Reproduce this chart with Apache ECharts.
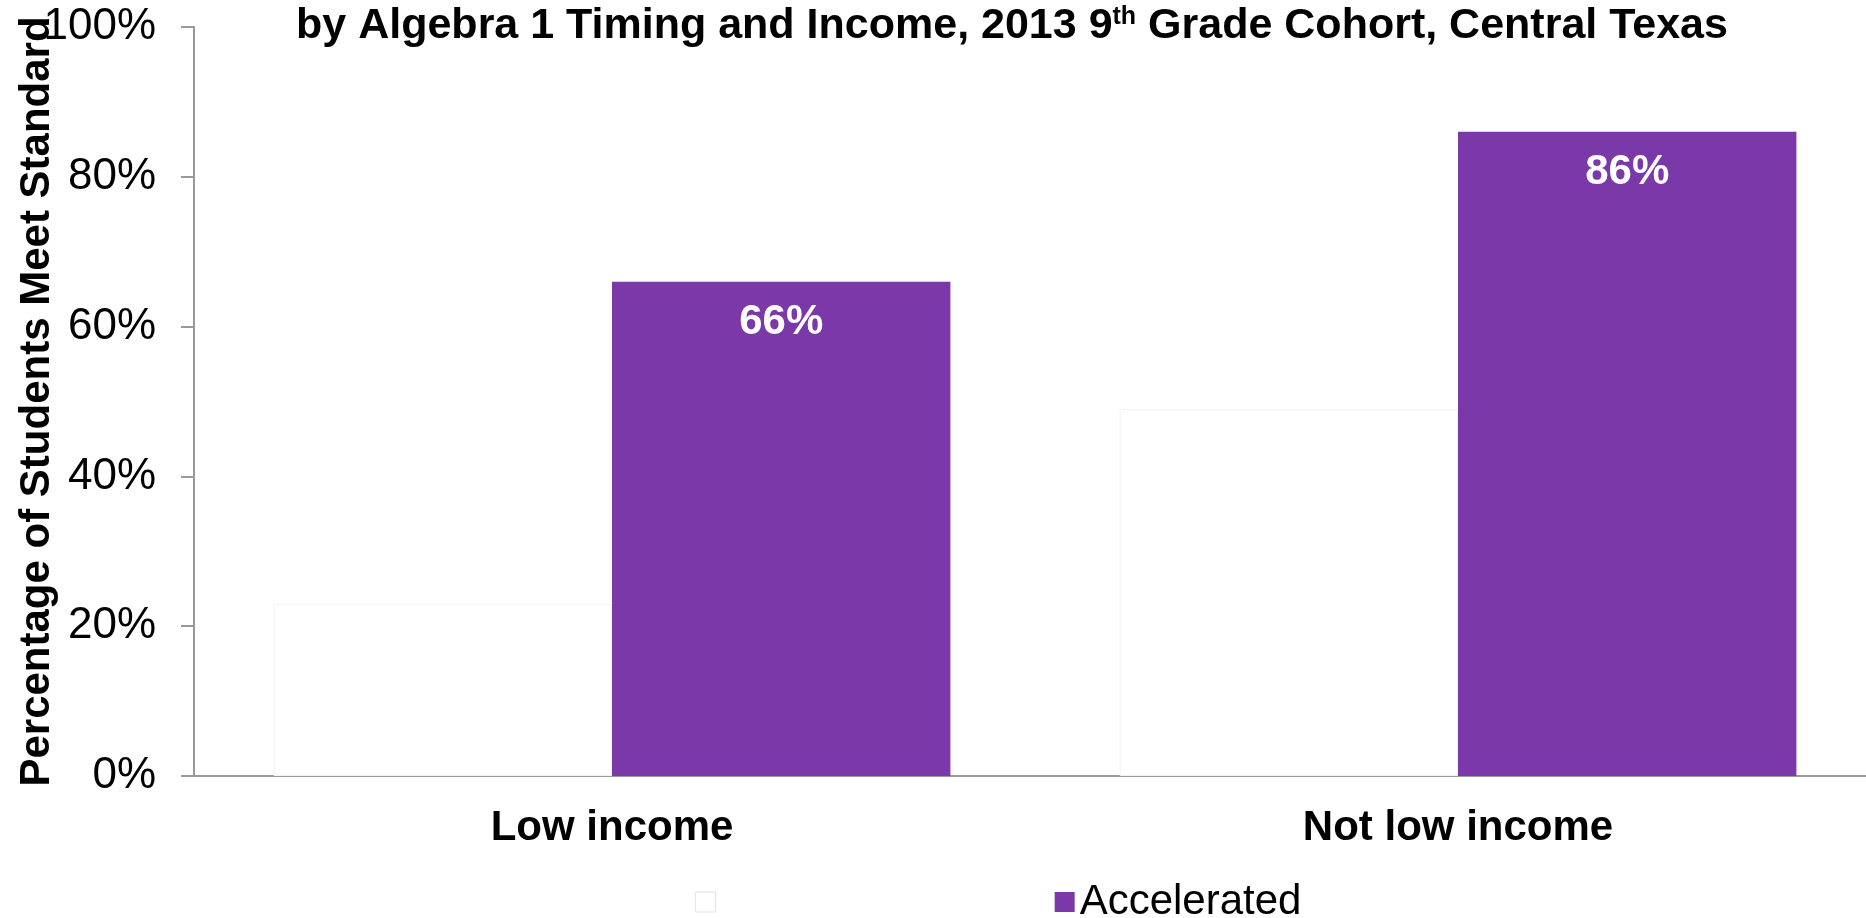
<!DOCTYPE html>
<html>
<head>
<meta charset="utf-8">
<script src="https://cdn.jsdelivr.net/npm/echarts@6/dist/echarts.min.js"></script>
<style>
  html, body { margin: 0; padding: 0; background: #fff; }
  #chart1 { width: 1866px; height: 918px; }
</style>
</head>
<body>
<div id="chart1"></div>
<script>
var categoryList = ['Low income', 'Not low income'];
var notAccelList = [23, 49];
var accelList = [66, 86];
var legenderList = ['Not accelerated', 'Accelerated'];
var yTickList = [0, 20, 40, 60, 80, 100];

var fontName = 'Liberation Sans, Arial, sans-serif';

var chart = echarts.init(document.getElementById('chart1'));
chart.setOption({
	animation: false,
	title: {
		text: '{t|by Algebra 1 Timing and Income, 2013 9}{s|th}{t| Grade Cohort, Central Texas}',
		left: 1007,
		top: 0,
		textAlign: 'center',
		textStyle: {
			rich: {
				t: { fontFamily: fontName, fontWeight: 'bold', fontSize: 43, color: '#000', verticalAlign: 'bottom' },
				s: { fontFamily: fontName, fontWeight: 'bold', fontSize: 25, color: '#000', verticalAlign: 'top' }
			}
		}
	},
	legend: {
		left: 690,
		top: 876,
		icon: 'rect',
		itemWidth: 20,
		itemHeight: 20,
		itemGap: 40,
		textStyle: { fontFamily: fontName, fontSize: 42, color: '#000' },
		// hidden series keeps a white label
		data: [
			{ name: legenderList[0], textStyle: { color: '#fff' }, itemStyle: { borderColor: '#e4e4e4', borderWidth: 1 } },
			{ name: legenderList[1] }
		]
	},
	grid: {
		left: 189,
		right: -15,
		top: 27,
		bottom: 142,
		outerBoundsMode: 'none'
	},
	xAxis: [{
		type: 'category',
		data: categoryList,
		axisLine: { lineStyle: { color: '#999', width: 2 } },
		axisTick: { show: false },
		axisLabel: {
			margin: 31,
			fontFamily: fontName,
			fontSize: 42,
			fontWeight: 'bold',
			color: '#000'
		}
	}],
	yAxis: [{
		type: 'value',
		offset: -5,
		min: yTickList[0],
		max: yTickList[yTickList.length - 1],
		interval: 20,
		name: 'Percentage of Students Meet Standard',
		nameLocation: 'middle',
		nameGap: 136,
		nameMoveOverlap: false,
		nameTextStyle: {
			fontFamily: fontName,
			fontSize: 42,
			fontWeight: 'bold',
			color: '#000'
		},
		splitLine: { show: false },
		axisLine: { show: true, lineStyle: { color: '#999', width: 2 } },
		axisTick: { show: true, length: 13, lineStyle: { color: '#999', width: 2 } },
		axisLabel: {
			margin: 38,
			fontFamily: fontName,
			fontSize: 44,
			color: '#000',
			formatter: '{value}%'
		}
	}],
	series: [{
		name: legenderList[0],
		type: 'bar',
		data: notAccelList,
		barGap: '0%',
		barCategoryGap: '20%',
		itemStyle: { color: '#ffffff', borderColor: '#f2f2f2', borderWidth: 1 }
	}, {
		name: legenderList[1],
		type: 'bar',
		data: accelList,
		barGap: '0%',
		barCategoryGap: '20%',
		itemStyle: { color: '#7a38a8' },
		label: {
			show: true,
			position: 'insideTop',
			distance: 20,
			formatter: '{c}%',
			fontFamily: fontName,
			fontSize: 42,
			fontWeight: 'bold',
			color: '#fff'
		}
	}]
});

window.addEventListener('resize', function() {
	chart.resize();
});
</script>
</body>
</html>
